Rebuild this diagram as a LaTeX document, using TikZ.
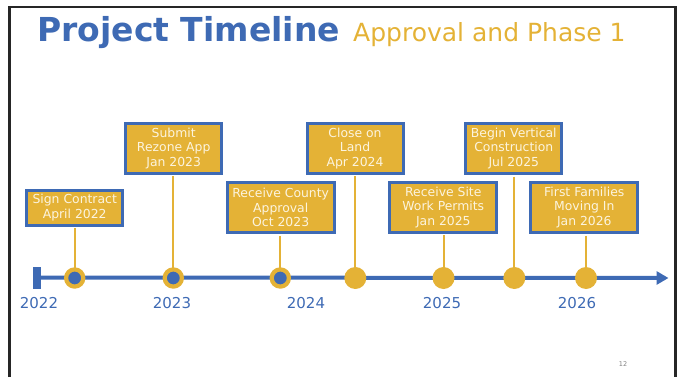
\documentclass[tikz,border=0pt]{standalone}
\usepackage{fontspec}
\setmainfont{DejaVu Sans}
\usetikzlibrary{arrows.meta}
\definecolor{tlblue}{RGB}{62,106,180}
\definecolor{tlgold}{RGB}{228,178,54}
\definecolor{tlcream}{RGB}{252,244,222}

\begin{document}
\begin{tikzpicture}[x=1pt, y=-1pt,
  evbox/.style={draw=tlblue, fill=tlgold, line width=3pt, text=tlcream,
    align=center, inner sep=0pt, font=\fontsize{12.4}{14.6}\selectfont},
  twoline/.style={minimum height=35pt},
  threeline/.style={minimum height=50pt},
  ringdot/.style={circle, draw=tlgold, fill=tlblue, line width=4.2pt,
    minimum size=17.2pt, inner sep=0pt},
  golddot/.style={circle, fill=tlgold, minimum size=22pt, inner sep=0pt},
  stem/.style={draw=tlgold, line width=2pt, shorten <=1.5pt},
  yearlbl/.style={anchor=base, text=tlblue, font=\fontsize{15}{18}\selectfont}]

\useasboundingbox (0,0) rectangle (684,377);

% slide frame
\draw[line width=2.6pt, black!85] (9.5,377) -- (9.5,7) -- (675.5,7) -- (675.5,377);

% title
\node[anchor=base west, text=tlblue, inner sep=0pt,
  font=\fontsize{33}{36}\selectfont\bfseries] (title) at (37,42) {Project Timeline};
\node[anchor=base west, text=tlgold, inner sep=0pt,
  font=\fontsize{25}{30}\selectfont] (subtitle) at (353,42) {Approval and Phase 1};

% milestone boxes
\node[evbox, twoline, minimum width=96pt] (contract) at (74.7,207.7)
  {Sign Contract\\April 2022};
\node[evbox, threeline, minimum width=96pt] (rezone) at (173.7,148.3)
  {Submit\\Rezone App\\Jan 2023};
\node[evbox, threeline, minimum width=107pt] (county) at (280.7,207.5)
  {Receive County\\Approval\\Oct 2023};
\node[evbox, threeline, minimum width=96pt] (land) at (355,148.3)
  {Close on\\Land\\Apr 2024};
\node[evbox, threeline, minimum width=107pt] (permits) at (443.3,207.3)
  {Receive Site\\Work Permits\\Jan 2025};
\node[evbox, threeline, minimum width=96pt] (vertical) at (513.8,148.5)
  {Begin Vertical\\Construction\\Jul 2025};
\node[evbox, threeline, minimum width=107pt] (families) at (584.3,207.5)
  {First Families\\Moving In\\Jan 2026};

% points on the line
\coordinate (p1) at (74.7,278);
\coordinate (p2) at (173.3,278);
\coordinate (p3) at (280.3,278);
\coordinate (p4) at (355.3,278);
\coordinate (p5) at (443.5,278);
\coordinate (p6) at (514.3,278);
\coordinate (p7) at (586,278);

% stems
\draw[stem] (p1 |- contract.south) -- (p1);
\draw[stem] (p2 |- rezone.south) -- (p2);
\draw[stem] (p3 |- county.south) -- (p3);
\draw[stem] (p4 |- land.south) -- (p4);
\draw[stem] (p5 |- permits.south) -- (p5);
\draw[stem] (p6 |- vertical.south) -- (p6);
\draw[stem] (p7 |- families.south) -- (p7);

% the time axis
\node[fill=tlblue, minimum width=8pt, minimum height=22pt, inner sep=0pt] (start) at (37.3,277.5) {};
\coordinate (tip) at (668.5,278);
\draw[tlblue, line width=4pt, -{Triangle[length=12pt,width=13pt]}] (start.center) -- (tip);

% dots
\node[ringdot] (d1) at (p1) {};
\node[ringdot] (d2) at (p2) {};
\node[ringdot] (d3) at (p3) {};
\node[golddot] (d4) at (p4) {};
\node[golddot] (d5) at (p5) {};
\node[golddot] (d6) at (p6) {};
\node[golddot] (d7) at (p7) {};

% years
\node[yearlbl] (y22) at (39,308) {2022};
\node[yearlbl] (y23) at (172,308) {2023};
\node[yearlbl] (y24) at (306,308) {2024};
\node[yearlbl] (y25) at (442,308) {2025};
\node[yearlbl] (y26) at (577,308) {2026};

% page number
\node[text=black!50, font=\fontsize{6.5}{7}\selectfont] (pageno) at (623,364) {12};

\end{tikzpicture}
\end{document}
